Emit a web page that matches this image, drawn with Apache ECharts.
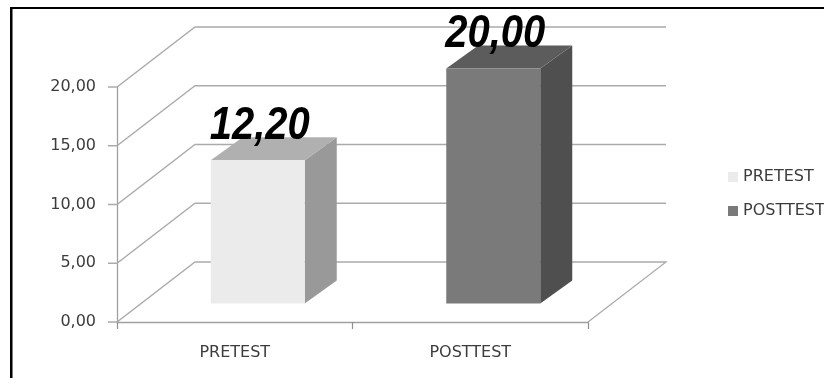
<!DOCTYPE html>
<html>
<head>
<meta charset="utf-8">
<style>html,body{margin:0;padding:0;background:#fff}#chart{width:824px;height:378px}</style>
<script src="https://cdn.jsdelivr.net/npm/echarts@6/dist/echarts.min.js"></script>
</head>
<body>
<div id="chart"></div>
<script>
// Test scores, drawn as pseudo-3D columns on a cartesian grid
const categories = ['PRETEST', 'POSTTEST'];
const pretestScores = [[0, 12.2]];
const posttestScores = [[1, 20.0]];
const valueTicks = [0, 5, 10, 15, 20];

// Projection of the chart's depth, in pixels
const wallDepth = [78, -60];
const columnInset = [23, -18.5];
const columnDepth = [32, -23];
const columnWidth = 94;
const tickLength = 9;

const comma = v => v.toFixed(2).replace('.', ',');

// Each value tick continues along the side wall and then across the back wall
function renderWall(params, api) {
  const v = api.value(0);
  const grid = params.coordSys;
  const y = api.coord([0, v])[1];
  const x0 = grid.x, x1 = grid.x + grid.width;
  const points = [
    [x0 - tickLength, y],
    [x0, y],
    [x0 + wallDepth[0], y + wallDepth[1]],
    [x1 + wallDepth[0], y + wallDepth[1]]
  ];
  if (v === 0) points.push([x1, y]);
  return {
    type: 'polyline',
    shape: { points },
    style: { stroke: '#ababab', lineWidth: 1.3, fill: 'none' }
  };
}

// One column: front, top and side faces plus its value label
function columnRenderer(front, top, side) {
  return function (params, api) {
    const cat = api.value(0), v = api.value(1);
    const base = api.coord([cat, 0]);
    const head = api.coord([cat, v]);
    const l = base[0] + columnInset[0] - columnWidth / 2;
    const r = l + columnWidth;
    const b = base[1] + columnInset[1];
    const t = head[1] + columnInset[1];
    const dx = columnDepth[0], dy = columnDepth[1];
    return {
      type: 'group',
      children: [
        { type: 'polygon', shape: { points: [[r, t], [r + dx, t + dy], [r + dx, b + dy], [r, b]] }, style: { fill: side } },
        { type: 'polygon', shape: { points: [[l, t], [l + dx, t + dy], [r + dx, t + dy], [r, t]] }, style: { fill: top } },
        { type: 'rect', shape: { x: l, y: t, width: columnWidth, height: b - t }, style: { fill: front } },
        {
          type: 'text', x: (l + r) / 2 + 2, y: t - 11, scaleY: 1.16,
          style: {
            text: comma(v), fill: '#000', align: 'center', verticalAlign: 'bottom',
            font: 'italic bold 40px "Liberation Sans", Arial, sans-serif'
          }
        }
      ]
    };
  };
}

const labelFont = { color: '#3c3c3c', fontFamily: '"DejaVu Sans", sans-serif', fontSize: 16 };

const chart = echarts.init(document.getElementById('chart'), null, { renderer: 'canvas' });
chart.setOption({
  animation: false,
  backgroundColor: '#fff',
  grid: { left: 117, top: 87, width: 471, height: 235 },
  xAxis: {
    type: 'category',
    data: categories,
    axisLine: { show: true, lineStyle: { color: '#a0a0a0', width: 1.3 } },
    axisTick: { show: true, inside: false, length: 7, alignWithLabel: false, lineStyle: { color: '#909090', width: 1.2 } },
    axisLabel: { ...labelFont, margin: 23 }
  },
  yAxis: {
    type: 'value', min: 0, max: 20, interval: 5,
    splitLine: { show: false },
    axisLine: { show: true, lineStyle: { color: '#a0a0a0', width: 1.3 } },
    axisTick: { show: false },
    axisLabel: { ...labelFont, margin: 21, formatter: comma }
  },
  legend: {
    orient: 'vertical', left: 723, top: 164, itemWidth: 10, itemHeight: 10, itemGap: 18, icon: 'rect',
    data: categories,
    textStyle: { ...labelFont }
  },
  graphic: [
    { type: 'rect', shape: { x: 11, y: 7, width: 813, height: 2 }, style: { fill: '#000' } },
    { type: 'rect', shape: { x: 10, y: 7, width: 2.5, height: 371 }, style: { fill: '#000' } }
  ],
  series: [
    {
      type: 'custom', name: 'wall', z: 1, silent: true,
      data: valueTicks.map(v => [v]),
      encode: { y: 0 }, renderItem: renderWall
    },
    {
      type: 'custom', name: categories[0], z: 2,
      itemStyle: { color: '#ebebeb' },
      data: pretestScores, encode: { x: 0, y: 1 },
      renderItem: columnRenderer('#ebebeb', '#b0b0b0', '#999999')
    },
    {
      type: 'custom', name: categories[1], z: 3,
      itemStyle: { color: '#7a7a7a' },
      data: posttestScores, encode: { x: 0, y: 1 },
      renderItem: columnRenderer('#7a7a7a', '#5c5c5c', '#4f4f4f')
    }
  ]
});
</script>
</body>
</html>
